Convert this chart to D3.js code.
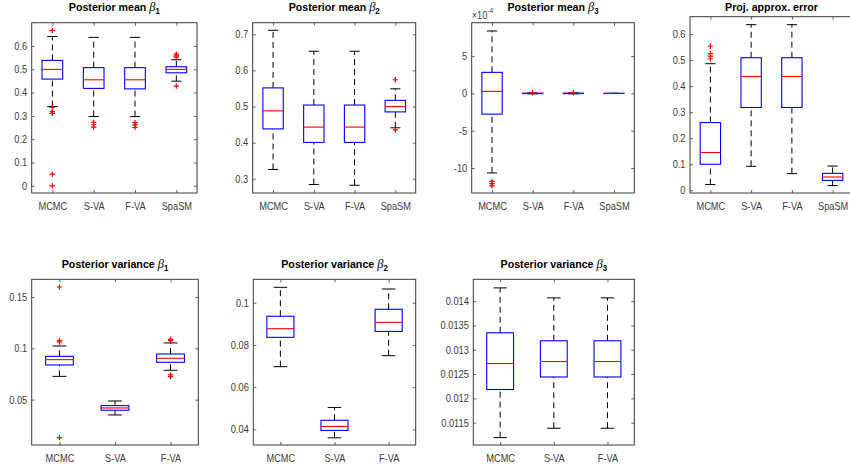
<!DOCTYPE html>
<html><head><meta charset="utf-8">
<script src="https://cdn.jsdelivr.net/npm/d3@7"></script>
<style>body{margin:0;background:#fff}svg{display:block}</style>
</head><body><svg id="c" width="850" height="473"></svg>
<script>
const cats4 = ["MCMC","S-VA","F-VA","SpaSM"];
const cats3 = ["MCMC","S-VA","F-VA"];
// box stats per method: [lower whisker, Q1, median, Q3, upper whisker]
const meanB1 = [[0.340,0.458,0.4995,0.538,0.641],[0.297,0.418,0.455,0.507,0.637],[0.297,0.416,0.455,0.507,0.637],[0.449,0.485,0.4995,0.511,0.541]];
const meanB1Out = [[0.667,0.336,0.318,0.311,0.050,0.0],[0.272,0.262,0.252],[0.271,0.261,0.251],[0.565,0.558,0.552,0.428]];
const meanB2 = [[0.3257,0.438,0.488,0.5515,0.711],[0.284,0.4005,0.443,0.504,0.653],[0.282,0.4005,0.443,0.504,0.653],[0.441,0.485,0.4998,0.517,0.549]];
const meanB2Out = [[],[],[],[0.574,0.435]];
const meanB3 = [[-10.67e-4,-2.78e-4,0.27e-4,2.82e-4,8.37e-4],[-0.06e-4,-0.03e-4,0,0.03e-4,0.06e-4],[-0.06e-4,-0.03e-4,0,0.03e-4,0.06e-4],[-0.02e-4,-0.01e-4,0,0.01e-4,0.02e-4]];
const meanB3Out = [[-11.8e-4,-12.1e-4,-12.4e-4],[0.08e-4],[0.08e-4],[]];
const projErr = [[0.022,0.100,0.145,0.260,0.486],[0.092,0.318,0.437,0.509,0.636],[0.064,0.318,0.437,0.509,0.636],[0.018,0.038,0.051,0.065,0.093]];
const projErrOut = [[0.553,0.525,0.515,0.505],[],[],[]];
const varB1 = [[0.0727,0.0838,0.0890,0.0922,0.1023],[0.0351,0.0397,0.0419,0.0442,0.0487],[0.0786,0.0864,0.0903,0.0945,0.1053]];
const varB1Out = [[0.1598,0.1075,0.1062,0.0130],[],[0.1088,0.1075,0.0741,0.0724]];
const varB2 = [[0.0697,0.0836,0.0877,0.0936,0.1073],[0.0360,0.0395,0.0414,0.0443,0.0504],[0.0749,0.0864,0.0907,0.0969,0.1065]];
const varB2Out = [[],[],[]];
const varB3 = [[0.011192,0.012182,0.012717,0.013349,0.014273],[0.011385,0.012440,0.012758,0.013185,0.014068],[0.011385,0.012440,0.012758,0.013185,0.014068]];
const varB3Out = [[],[],[]];

const ticksMeanB1 = [0,0.1,0.2,0.3,0.4,0.5,0.6];
const labelsMeanB1 = ["0","0.1","0.2","0.3","0.4","0.5","0.6"];
const ticksMeanB2 = [0.3,0.4,0.5,0.6,0.7];
const labelsMeanB2 = ["0.3","0.4","0.5","0.6","0.7"];
const ticksMeanB3 = [-10e-4,-5e-4,0,5e-4];
const labelsMeanB3 = ["-10","-5","0","5"];
const ticksProj = [0,0.1,0.2,0.3,0.4,0.5,0.6];
const labelsProj = ["0","0.1","0.2","0.3","0.4","0.5","0.6"];
const ticksVarB1 = [0.05,0.1,0.15];
const labelsVarB1 = ["0.05","0.1","0.15"];
const ticksVarB2 = [0.04,0.06,0.08,0.1];
const labelsVarB2 = ["0.04","0.06","0.08","0.1"];
const ticksVarB3 = [0.0115,0.012,0.0125,0.013,0.0135,0.014];
const labelsVarB3 = ["0.0115","0.012","0.0125","0.013","0.0135","0.014"];

const panels = [
  {title:"Posterior mean ", greek:"β", sub:"1", cats:cats4, stats:meanB1, out:meanB1Out, ticks:ticksMeanB1, labels:labelsMeanB1, domain:[-0.031,0.70], box:[31.7,197,22.7,193], tb:11},
  {title:"Posterior mean ", greek:"β", sub:"2", cats:cats4, stats:meanB2, out:meanB2Out, ticks:ticksMeanB2, labels:labelsMeanB2, domain:[0.2605,0.732], box:[252.7,415.7,22.7,193], tb:11},
  {title:"Posterior mean ", greek:"β", sub:"3", cats:cats4, stats:meanB3, out:meanB3Out, ticks:ticksMeanB3, labels:labelsMeanB3, domain:[-13.36e-4,9.48e-4], box:[471.7,634.3,22.7,193], tb:11, exp:"-4"},
  {title:"Proj. approx. error", greek:"", sub:"", cats:cats4, stats:projErr, out:projErrOut, ticks:ticksProj, labels:labelsProj, domain:[-0.0104,0.6665], box:[690,853,16.7,193], tb:11},
  {title:"Posterior variance ", greek:"β", sub:"1", cats:cats3, stats:varB1, out:varB1Out, ticks:ticksVarB1, labels:labelsVarB1, domain:[0.0058,0.1673], box:[31.7,198.3,279.3,445], tb:267.5},
  {title:"Posterior variance ", greek:"β", sub:"2", cats:cats3, stats:varB2, out:varB2Out, ticks:ticksVarB2, labels:labelsVarB2, domain:[0.0326,0.1111], box:[253.3,415.7,279.3,445], tb:267.5},
  {title:"Posterior variance ", greek:"β", sub:"3", cats:cats3, stats:varB3, out:varB3Out, ticks:ticksVarB3, labels:labelsVarB3, domain:[0.01104,0.01445], box:[473.3,634.3,279.3,445], tb:267.5}
];

const svg = d3.select("#c");
const FONT = "'Liberation Sans', Arial, Helvetica, sans-serif";
const SX = 0.88, FS = 10.5, AX = "#3a3a3a", TXT = "#3a3a3a";

function squeeze(sel){
  sel.each(function(){
    const t = d3.select(this);
    const x = +t.attr("x") || 0;
    t.attr("x", x / SX).attr("transform", `scale(${SX},1)`);
  });
}

panels.forEach(p => {
  const [x0,x1,y0,y1] = p.box;
  const n = p.cats.length;
  const x = d3.scaleLinear().domain([0.5, n + 0.5]).range([x0, x1]);
  const y = d3.scaleLinear().domain(p.domain).range([y1, y0]);
  const g = svg.append("g");
  const idx = d3.range(1, n + 1);

  // axes
  const left = g.append("g").attr("transform", `translate(${x0},0)`)
    .call(d3.axisLeft(y).tickValues(p.ticks).tickFormat((d,i)=>p.labels[i]).tickSizeInner(-3).tickSizeOuter(0).tickPadding(4.5));
  const right = g.append("g").attr("transform", `translate(${x1},0)`)
    .call(d3.axisRight(y).tickValues(p.ticks).tickFormat("").tickSizeInner(-3).tickSizeOuter(0));
  const bottom = g.append("g").attr("transform", `translate(0,${y1})`)
    .call(d3.axisBottom(x).tickValues(idx).tickFormat(i=>p.cats[i-1]).tickSizeInner(-3).tickSizeOuter(0).tickPadding(9.5));
  const top = g.append("g").attr("transform", `translate(0,${y0})`)
    .call(d3.axisTop(x).tickValues(idx).tickFormat("").tickSizeInner(-3).tickSizeOuter(0));
  [left,right,bottom,top].forEach(a => {
    a.select(".domain").remove();
    a.selectAll("line").attr("stroke", AX).attr("stroke-width", 0.8);
    a.selectAll("text").attr("font-family", FONT).attr("font-size", FS).attr("fill", TXT);
  });
  squeeze(left.selectAll("text"));
  squeeze(bottom.selectAll("text"));

  // boxplots
  const bw = x(1.25) - x(1), cw = x(1.125) - x(1);
  p.stats.forEach((s, i) => {
    const cx = x(i + 1);
    const bg = g.append("g");
    // whiskers
    bg.append("line").attr("x1",cx).attr("x2",cx).attr("y1",y(s[3])).attr("y2",y(s[4]))
      .attr("stroke","#000").attr("stroke-width",1).attr("stroke-dasharray","6,4");
    bg.append("line").attr("x1",cx).attr("x2",cx).attr("y1",y(s[0])).attr("y2",y(s[1]))
      .attr("stroke","#000").attr("stroke-width",1).attr("stroke-dasharray","6,4");
    [s[0], s[4]].forEach(v => {
      bg.append("line").attr("x1",cx-cw).attr("x2",cx+cw).attr("y1",y(v)).attr("y2",y(v))
        .attr("stroke","#000").attr("stroke-width",1);
    });
    bg.append("rect").attr("x",cx-bw).attr("width",2*bw)
      .attr("y",y(s[3])).attr("height",Math.max(0.01, y(s[1]) - y(s[3])))
      .attr("fill","none").attr("stroke","#0000ff").attr("stroke-width",1.1);
    bg.append("line").attr("x1",cx-bw).attr("x2",cx+bw).attr("y1",y(s[2])).attr("y2",y(s[2]))
      .attr("stroke","#ff0000").attr("stroke-width",1.1).attr("stroke-opacity", (y(s[1])-y(s[3]) < 2) ? 0.55 : 1);
    (p.out[i] || []).forEach(o => {
      const oy = y(o), r = 2.7;
      bg.append("path").attr("d", `M${cx-r},${oy}H${cx+r}M${cx},${oy-r}V${oy+r}`)
        .attr("stroke","#ff0000").attr("stroke-width",1.2).attr("fill","none");
    });
  });

  // frame
  g.append("rect").attr("x",x0).attr("y",y0).attr("width",x1-x0).attr("height",y1-y0)
    .attr("fill","none").attr("stroke",AX).attr("stroke-width",1);

  // title
  const tg = g.append("g").attr("transform", `translate(${(x0+Math.min(x1,850)+ (x1>850? x1-850:0))/2},${p.tb}) scale(0.92,1)`);
  const t = tg.append("text").attr("text-anchor","middle").attr("font-family",FONT)
    .attr("font-weight","bold").attr("font-size",11.6).attr("fill","#000");
  t.append("tspan").text(p.title);
  if (p.greek) {
    t.append("tspan").text(p.greek).attr("font-family","'Liberation Serif','DejaVu Serif',serif")
      .attr("font-style","italic").attr("font-weight","normal").attr("font-size",13.5);
    t.append("tspan").text(p.sub).attr("font-size",8.5).attr("dy",3);
  }

  // exponent label
  if (p.exp) {
    const eg = g.append("g").attr("transform", `translate(${x0},${y0-3.5}) scale(${SX},1)`);
    const et = eg.append("text").attr("font-family",FONT).attr("font-size",FS).attr("fill",TXT);
    et.append("tspan").text("×10");
    et.append("tspan").text(p.exp).attr("font-size",7.5).attr("dy",-6);
  }
});
</script>
</body></html>
